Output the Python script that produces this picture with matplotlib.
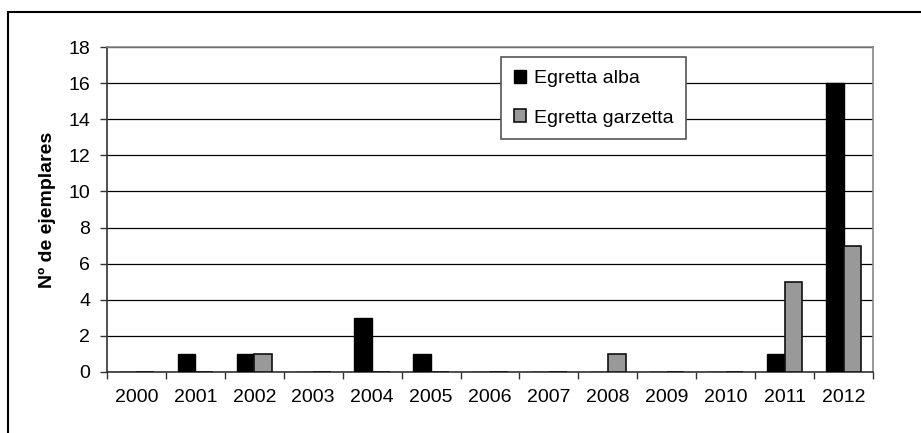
import matplotlib
matplotlib.use("Agg")
import matplotlib.pyplot as plt
import numpy as np
from matplotlib.patches import Rectangle

plt.rcParams['font.family'] = ['Liberation Sans', 'DejaVu Sans']

years = ["2000", "2001", "2002", "2003", "2004", "2005", "2006",
         "2007", "2008", "2009", "2010", "2011", "2012"]
alba = [0, 1, 1, 0, 3, 1, 0, 0, 0, 0, 0, 1, 16]
garzetta = [0, 0, 1, 0, 0, 0, 0, 0, 1, 0, 0, 5, 7]
yticks = [0, 2, 4, 6, 8, 10, 12, 14, 16, 18]

W, H = 921, 433
fig = plt.figure(figsize=(W / 100, H / 100), dpi=100)
ax = fig.add_axes([107 / W, 1 - 372 / H, (873 - 107) / W, (372 - 47) / H])

x = np.arange(len(years))
bw = 0.3
ax.bar(x - bw / 2, alba, bw, color='black', edgecolor='black', linewidth=1,
       label='Egretta alba', zorder=3)
ax.bar(x + bw / 2, garzetta, bw, color='#999999', edgecolor='#111111', linewidth=1.2,
       label='Egretta garzetta', zorder=3)

ax.set_xlim(-0.5, len(years) - 0.5)
ax.set_ylim(0, 18)
ax.set_yticks(yticks)
ax.set_yticklabels([str(v) for v in yticks], fontsize=14)
ax.set_xticks(x)
ax.set_xticklabels(years, fontsize=14)
ax.set_xticks(np.arange(-0.5, len(years), 1), minor=True)
ax.tick_params(axis='x', which='major', length=0, pad=12)
ax.tick_params(axis='x', which='minor', length=5, width=1, direction='out', color='#333333')
ax.tick_params(axis='y', length=5, width=1, pad=7, color='#333333')

ax.grid(axis='y', color='black', linewidth=0.9, zorder=0)
ax.set_axisbelow(True)
for s in ['top', 'right']:
    ax.spines[s].set_color('#888888')
    ax.spines[s].set_linewidth(1.2)
for s in ['left', 'bottom']:
    ax.spines[s].set_color('#333333')
    ax.spines[s].set_linewidth(1.2)

ax.set_ylabel('Nº de ejemplares', fontsize=14, fontweight='bold', labelpad=9)

leg = ax.legend(loc='upper left', bbox_to_anchor=(501 / W, 1 - 57 / H),
                bbox_transform=fig.transFigure, fontsize=14, frameon=True,
                fancybox=False, handlelength=0.65, handleheight=0.65,
                labelspacing=1.15, borderpad=0.65, handletextpad=0.4,
                borderaxespad=0)
leg.get_frame().set_edgecolor('#555555')
leg.get_frame().set_linewidth(1.2)
leg.get_frame().set_facecolor('white')
leg.get_frame().set_alpha(1)
leg.set_zorder(5)

fig.patches.append(Rectangle((8 / W, -0.1), 1.2, (1 - 12 / H) + 0.1,
                             transform=fig.transFigure, fill=False,
                             edgecolor='black', linewidth=1.5))

fig.savefig('out.png', dpi=100)
